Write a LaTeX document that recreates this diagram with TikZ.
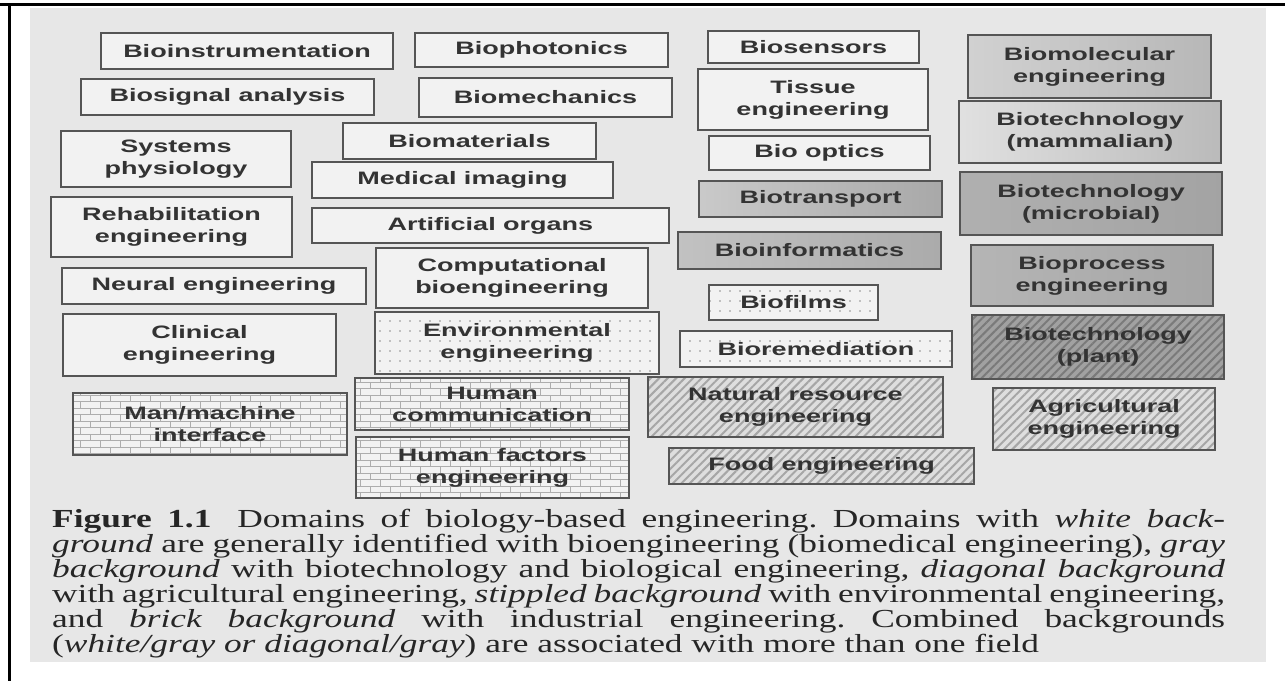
\documentclass[tikz,border=0pt]{standalone}
\usepackage{fontspec}
\usepackage{tikz}
\usetikzlibrary{patterns,patterns.meta}
\usepackage{xcolor}

\newfontfamily\domainfont{Liberation Sans}[FakeStretch=1.5]
\newfontfamily\capfont{Liberation Serif}[FakeStretch=1.36]

\definecolor{scanbg}{HTML}{E7E7E7}
\definecolor{boxline}{HTML}{555555}
\definecolor{boxtext}{HTML}{333333}
\definecolor{boxwhite}{HTML}{F2F2F2}
\definecolor{diagfill}{HTML}{DEDEDE}
\definecolor{diagline}{HTML}{A6A6A6}
\definecolor{dotcolor}{HTML}{8E8E8E}
\definecolor{brickline}{HTML}{ADADAD}
\definecolor{captext}{HTML}{262626}

\pgfdeclarepatternformonly{brickwall}{\pgfqpoint{-1pt}{-1pt}}{\pgfqpoint{21pt}{14pt}}{\pgfqpoint{20pt}{13pt}}{%
  \pgfsetlinewidth{0.8pt}
  \pgfpathmoveto{\pgfqpoint{0pt}{0pt}}\pgfpathlineto{\pgfqpoint{20pt}{0pt}}
  \pgfpathmoveto{\pgfqpoint{0pt}{6.5pt}}\pgfpathlineto{\pgfqpoint{20pt}{6.5pt}}
  \pgfpathmoveto{\pgfqpoint{0pt}{0pt}}\pgfpathlineto{\pgfqpoint{0pt}{6.5pt}}
  \pgfpathmoveto{\pgfqpoint{10pt}{6.5pt}}\pgfpathlineto{\pgfqpoint{10pt}{13pt}}
  \pgfusepath{stroke}}

\newcommand{\capline}[1]{\makebox[1173pt][s]{#1}}

\tikzset{
  domainbox/.style={draw=boxline, line width=1.3pt, inner sep=0pt, align=center,
    text=boxtext, font=\domainfont\bfseries\fontsize{18}{22}\selectfont},
  dims/.style 2 args={minimum width=#1pt, minimum height=#2pt},
  whitebg/.style={domainbox, fill=boxwhite},
  graybg/.style args={#1/#2}{domainbox, left color=black!#1, right color=black!#2},
  diagbg/.style={domainbox, preaction={fill=#1}, pattern={Lines[angle=45,distance=6pt,line width=2pt]}, pattern color=diagline},
  diagbg/.default=diagfill,
  dotbg/.style={domainbox, preaction={fill=boxwhite}, pattern={Dots[distance=10pt,radius=0.9pt]}, pattern color=dotcolor},
  brickbg/.style={domainbox, preaction={fill=boxwhite}, pattern=brickwall, pattern color=brickline},
  capstyle/.style={anchor=base west, inner sep=0pt, text=captext,
    font=\capfont\fontsize{26}{30}\selectfont\frenchspacing}
}

\begin{document}
\begin{tikzpicture}[x=1pt, y=-1pt]
\useasboundingbox (0,0) rectangle (1285,681);
% Sfondo
\fill[white] (0,0) rectangle (1285,681);
\fill[scanbg] (30,8) rectangle (1266,662);
\draw[line width=2.5pt] (0,4.5) -- (1285,4.5);
\draw[line width=2.5pt] (9.5,4.5) -- (9.5,681);
% Colonna 1
\node[whitebg, dims={292}{36}] (bioinstr) at (247,51) {Bioinstrumentation};
\node[whitebg, dims={293}{36}] (biosignal) at (227.5,97) {Biosignal analysis};
\node[whitebg, dims={230}{56}] (physio) at (176,159) {Systems\\physiology};
\node[whitebg, dims={241}{60}] (rehab) at (171.5,227) {Rehabilitation\\engineering};
\node[whitebg, dims={304}{36}] (neural) at (214,286) {Neural engineering};
\node[whitebg, dims={273}{62}] (clinical) at (199.5,345) {Clinical\\engineering};
\node[brickbg, dims={274}{62}] (manmach) at (210,424) {Man/machine\\interface};
% Colonna 2
\node[whitebg, dims={253}{34}] (photon) at (541.5,50) {Biophotonics};
\node[whitebg, dims={253}{39}] (mech) at (545.5,97.5) {Biomechanics};
\node[whitebg, dims={253}{36}] (mater) at (469.5,141) {Biomaterials};
\node[whitebg, dims={301}{36}] (imaging) at (462.5,180) {Medical imaging};
\node[whitebg, dims={357}{35}] (organs) at (490.5,225.5) {Artificial organs};
\node[whitebg, dims={272}{60}] (comput) at (512,278) {Computational\\bioengineering};
\node[dotbg, dims={284}{62}] (environ) at (517,343) {Environmental\\engineering};
\node[brickbg, dims={274}{52}] (humcomm) at (492,404) {Human\\communication};
\node[brickbg, dims={273}{61}] (humfact) at (492.5,467.5) {Human factors\\engineering};
% Colonna 3
\node[whitebg, dims={211}{32}] (sensors) at (813.5,47) {Biosensors};
\node[whitebg, dims={230}{61}] (tissue) at (813,99.5) {Tissue\\engineering};
\node[whitebg, dims={221}{34}] (optics) at (819.5,153) {Bio optics};
\node[graybg={21/34}, dims={243}{36}] (transp) at (820.5,199) {Biotransport};
\node[graybg={24/33}, dims={263}{37}] (inform) at (809.5,250.5) {Bioinformatics};
\node[dotbg, dims={169}{35}] (films) at (793.5,302.5) {Biofilms};
\node[dotbg, dims={272}{36}] (remed) at (816,349) {Bioremediation};
\node[diagbg, dims={295}{60}] (natres) at (795.5,407) {Natural resource\\engineering};
\node[diagbg, dims={305}{36}] (food) at (821.5,466) {Food engineering};
% Colonna 4
\node[graybg={18/28}, dims={243}{63}] (biomol) at (1089.5,66.5) {Biomolecular\\engineering};
\node[graybg={12/27}, dims={262}{62}] (mammal) at (1090,132) {Biotechnology\\(mammalian)};
\node[graybg={31/36}, dims={262}{63}] (microb) at (1091,203.5) {Biotechnology\\(microbial)};
\node[graybg={29/35}, dims={242}{61}] (bioproc) at (1092,275.5) {Bioprocess\\engineering};
\node[diagbg=black!37, pattern color=black!52, dims={252}{64}] (plant) at (1098,347) {Biotechnology\\(plant)};
\node[diagbg, dims={222}{62}] (agric) at (1104,419) {Agricultural\\engineering};
% Didascalia
\node[capstyle] (cap1) at (52,527) {\capline{\textbf{Figure 1.1}\quad Domains of biology-based engineering. Domains with \textit{white back-}}};
\node[capstyle] (cap2) at (52,552) {\capline{\textit{ground} are generally identified with bioengineering (biomedical engineering), \textit{gray}}};
\node[capstyle] (cap3) at (52,577) {\capline{\textit{background} with biotechnology and biological engineering, \textit{diagonal background}}};
\node[capstyle] (cap4) at (52,602) {\capline{with agricultural engineering, \textit{stippled background} with environmental engineering,}};
\node[capstyle] (cap5) at (52,627) {\capline{and \textit{brick background} with industrial engineering. Combined backgrounds}};
\node[capstyle] (cap6) at (52,652) {(\textit{white/gray or diagonal/gray}) are associated with more than one field};
\end{tikzpicture}
\end{document}
